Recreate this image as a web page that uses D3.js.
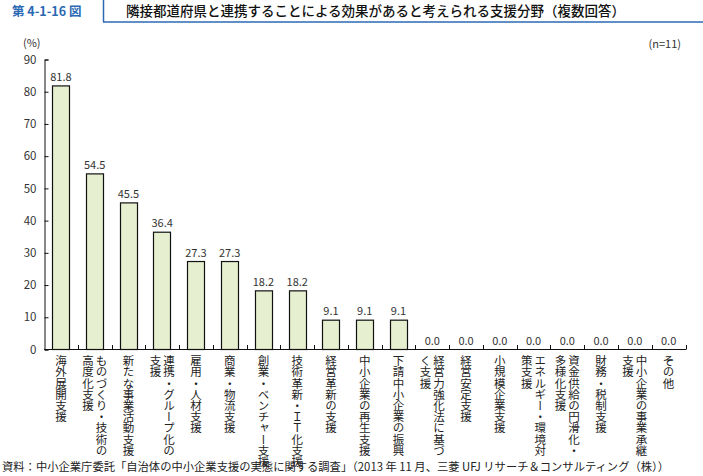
<!DOCTYPE html>
<html><head><meta charset="utf-8">
<script src="https://cdn.jsdelivr.net/npm/d3@7"></script>
<style>
html,body{margin:0;padding:0;background:#fff;}
svg{display:block;font-family:"Noto Sans CJK JP","Noto Sans",sans-serif;}
</style></head>
<body><svg id="c" width="703" height="476"></svg>
<script>
const categories = [
  ["海外展開支援"],
  ["ものづくり・技術の","高度化支援"],
  ["新たな事業活動支援"],
  ["連携・グループ化の","支援"],
  ["雇用・人材支援"],
  ["商業・物流支援"],
  ["創業・ベンチャー支援"],
  ["技術革新・ＩＴ化支援"],
  ["経営革新の支援"],
  ["中小企業の再生支援"],
  ["下請中小企業の振興"],
  ["経営力強化法に基づ","く支援"],
  ["経営安定支援"],
  ["小規模企業支援"],
  ["エネルギー・環境対","策支援"],
  ["資金供給の円滑化・","多様化支援"],
  ["財務・税制支援"],
  ["中小企業の事業承継","支援"],
  ["その他"]
];
const values = [81.8,54.5,45.5,36.4,27.3,27.3,18.2,18.2,9.1,9.1,9.1,0,0,0,0,0,0,0,0];
const yTicks = [0,10,20,30,40,50,60,70,80,90];

const svg = d3.select("#c");
const blue = "#2b69b3";

// header
svg.append("line").attr("x1",103.5).attr("x2",103.5).attr("y1",0).attr("y2",22).attr("stroke",blue).attr("stroke-width",1.5);
svg.append("line").attr("x1",103).attr("x2",703).attr("y1",22).attr("y2",22).attr("stroke",blue).attr("stroke-width",1.5);
svg.append("text").attr("x",12).attr("y",16).attr("fill",blue).attr("font-weight","bold").attr("font-size",12.5).text("第 4-1-16 図");
svg.append("text").attr("x",126).attr("y",16).attr("fill","#111").attr("font-size",13.5).attr("font-weight",500).text("隣接都道府県と連携することによる効果があると考えられる支援分野（複数回答）");

svg.append("text").attr("x",23).attr("y",47).attr("font-size",11).attr("fill","#333").text("(%)");
svg.append("text").attr("x",681).attr("y",48).attr("font-size",11).attr("fill","#333").attr("text-anchor","end").text("(n=11)");

const x = d3.scaleBand().domain(d3.range(categories.length)).range([44,685.5]).paddingInner(0.485).paddingOuter(0.2425);
const y = d3.scaleLinear().domain([0,90]).range([349.5,59.5]);

// bars
svg.append("g").selectAll("rect").data(values).join("rect")
  .attr("x",(d,i)=>Math.round(x(i))+0.5).attr("y",d=>y(d))
  .attr("width",Math.round(x.bandwidth())).attr("height",d=>y(0)-y(d))
  .attr("fill","#e6f0d0").attr("stroke","#111").attr("stroke-width",1.2);

// value labels
svg.append("g").selectAll("text").data(values).join("text")
  .attr("x",(d,i)=>x(i)+x.bandwidth()/2).attr("y",d=>y(d)-5)
  .attr("text-anchor","middle").attr("font-size",11).attr("fill","#333")
  .text(d=>d.toFixed(1));

// y axis
const ya = svg.append("g").attr("transform","translate(44.5,0)")
  .call(d3.axisLeft(y).tickValues(yTicks).tickSize(-4).tickPadding(8));
ya.select(".domain").attr("stroke","#111");
ya.selectAll(".tick line").attr("stroke","#111");
ya.selectAll(".tick text").attr("font-size",11.5).attr("fill","#333").attr("font-family","Noto Sans CJK JP");

// x axis line with inward ticks at category boundaries
const boundaries = d3.range(1, categories.length+1).map(i=>44 + i*(685.5-44)/categories.length);
svg.append("line").attr("x1",44).attr("x2",686).attr("y1",349.5).attr("y2",349.5).attr("stroke","#111");
svg.append("g").selectAll("line").data(boundaries).join("line")
  .attr("x1",d=>Math.round(d)+0.5).attr("x2",d=>Math.round(d)+0.5).attr("y1",349.5).attr("y2",345)
  .attr("stroke","#111");

// vertical category labels
const lg = svg.append("g");
categories.forEach((lines,i)=>{
  const cx = x(i)+x.bandwidth()/2;
  const n = lines.length;
  lines.forEach((ln,j)=>{
    const off = (n-1)/2*13.5 - j*13.5;
    lg.append("text").attr("x",cx+off).attr("y",355)
      .style("writing-mode","vertical-rl").style("text-orientation","mixed")
      .attr("font-size",11.5).attr("fill","#222").attr("letter-spacing",-0.3)
      .text(ln);
  });
});

svg.append("text").attr("x",2).attr("y",471).attr("font-size",11.3).attr("fill","#222")
  .text("資料：中小企業庁委託「自治体の中小企業支援の実態に関する調査」（2013 年 11 月、三菱 UFJ リサーチ＆コンサルティング（株））");
</script></body></html>
